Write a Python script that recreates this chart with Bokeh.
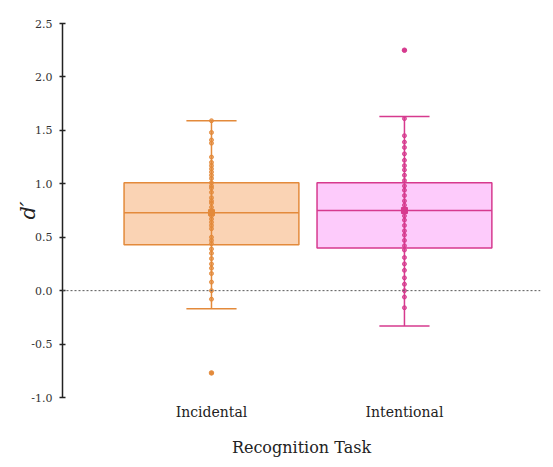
from bokeh.plotting import figure
from bokeh.models import Range1d, Span, FixedTicker
from bokeh.embed import file_html
from bokeh.resources import INLINE

# ---- data ----
categories = ["Incidental", "Intentional"]
positions = [1, 2]
q1 = [0.43, 0.40]
median = [0.73, 0.75]
q3 = [1.01, 1.01]
whisker_low = [-0.17, -0.33]
whisker_high = [1.59, 1.63]
means = [0.73, 0.75]
outliers_incidental = [-0.77]
outliers_intentional = [2.25]
points_incidental = [1.59, 1.48, 1.41, 1.38, 1.25, 1.20, 1.17, 1.14, 1.11, 1.08, 1.05,
                     1.01, 0.98, 0.96, 0.92, 0.87, 0.84, 0.82, 0.78, 0.75, 0.73, 0.70,
                     0.67, 0.64, 0.61, 0.58, 0.50, 0.47, 0.44, 0.39, 0.35, 0.30, 0.25,
                     0.21, 0.16, 0.08, 0.00, -0.08]
points_intentional = [1.61, 1.45, 1.39, 1.34, 1.28, 1.22, 1.17, 1.13, 1.08, 1.03, 0.98,
                      0.94, 0.89, 0.84, 0.80, 0.75, 0.70, 0.66, 0.61, 0.56, 0.52, 0.47,
                      0.42, 0.38, 0.31, 0.25, 0.19, 0.12, 0.06, 0.00, -0.06, -0.16]
y_ticks = [-1.0, -0.5, 0.0, 0.5, 1.0, 1.5, 2.0, 2.5]

line_colors = ["#E38A3B", "#D63A8E"]
fill_colors = ["#FAD3B4", "#FDCBFB"]
box_half = 0.453
cap_half = 0.13
FONT = "DejaVu Serif"

x_lo, x_hi = 0.228, 2.705
y_lo, y_hi = -1.0, 2.5

p = figure(width=545, height=459, output_backend="svg", toolbar_location=None,
           x_range=Range1d(x_lo, x_hi), y_range=Range1d(y_lo, y_hi),
           min_border_left=62, min_border_right=5, min_border_top=23, min_border_bottom=0)
p.grid.visible = False
p.outline_line_color = None
p.background_fill_color = "white"
p.border_fill_color = "white"

# zero reference line
p.add_layout(Span(location=0, dimension="width", line_color="#555555",
                  line_dash="2 2", line_width=1))

for i, x in enumerate(positions):
    lc, fc = line_colors[i], fill_colors[i]
    p.quad(left=[x - box_half], right=[x + box_half], bottom=[q1[i]], top=[q3[i]],
           fill_color=fc, fill_alpha=1.0, line_color=lc, line_width=1.5)
    p.segment(x0=[x], y0=[whisker_low[i]], x1=[x], y1=[whisker_high[i]],
              line_color=lc, line_width=1.5)
    p.segment(x0=[x - cap_half, x - cap_half], y0=[whisker_low[i], whisker_high[i]],
              x1=[x + cap_half, x + cap_half], y1=[whisker_low[i], whisker_high[i]],
              line_color=lc, line_width=1.5)
    p.segment(x0=[x - box_half], y0=[median[i]], x1=[x + box_half], y1=[median[i]],
              line_color=lc, line_width=1.5)
    pts = points_incidental if i == 0 else points_intentional
    p.scatter(x=[x] * len(pts), y=pts, size=4, fill_color=lc, line_color=lc,
              fill_alpha=0.7, line_alpha=0.9)
    outs = outliers_incidental if i == 0 else outliers_intentional
    p.scatter(x=[x] * len(outs), y=outs, size=4.5, fill_color=lc, line_color=lc)
    p.scatter(x=[x], y=[means[i]], marker="square", size=6, fill_color=lc, line_color=lc)

# y axis
ya = p.yaxis[0]
ya.ticker = FixedTicker(ticks=y_ticks)
ya.major_label_overrides = {t: f"{t:.1f}" for t in y_ticks}
ya.axis_line_color = "#222222"
ya.axis_line_width = 1.5
ya.major_tick_line_color = "#222222"
ya.major_tick_line_width = 1.5
ya.major_tick_in = 3
ya.major_tick_out = 3
ya.minor_tick_line_color = None
ya.major_label_text_font = FONT
ya.major_label_text_font_size = "11px"
ya.major_label_text_color = "#333333"
ya.major_label_standoff = 7
ya.axis_label = "d′"
ya.axis_label_text_font = FONT
ya.axis_label_text_font_style = "italic"
ya.axis_label_text_font_size = "21px"
ya.axis_label_text_color = "#222222"
ya.axis_label_standoff = -12

# x axis
xa = p.xaxis[0]
xa.ticker = FixedTicker(ticks=positions)
xa.major_label_overrides = {pos: c for pos, c in zip(positions, categories)}
xa.axis_line_color = None
xa.major_tick_line_color = None
xa.minor_tick_line_color = None
xa.major_label_text_font = FONT
xa.major_label_text_font_size = "14px"
xa.major_label_text_color = "#222222"
xa.major_label_standoff = 0
xa.axis_label = "Recognition Task"
xa.axis_label_text_font = FONT
xa.axis_label_text_font_style = "normal"
xa.axis_label_text_font_size = "16px"
xa.axis_label_text_color = "#222222"
xa.axis_label_standoff = 15

open("out.html", "w").write(file_html(p, INLINE))
